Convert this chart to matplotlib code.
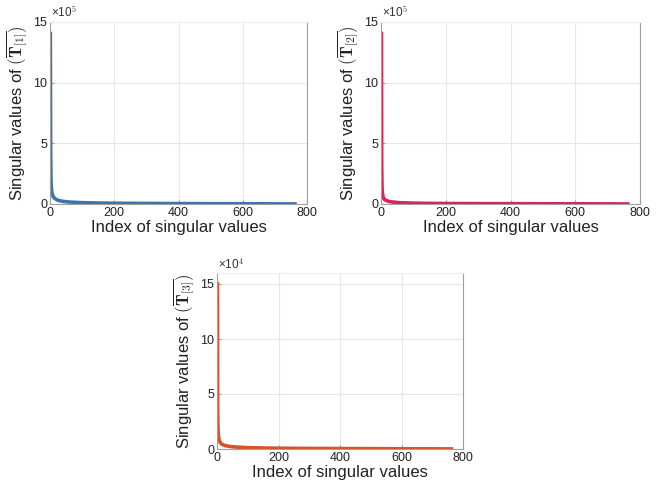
import matplotlib
matplotlib.use("Agg")
import matplotlib.pyplot as plt
from matplotlib.ticker import FuncFormatter

plt.rcParams['font.family'] = ['Liberation Sans', 'DejaVu Sans']
plt.rcParams['mathtext.fontset'] = 'cm'

# Singular value anchors
idx = [1, 2, 3, 4, 6, 10, 15, 25, 40, 60, 100, 150, 200, 300, 400, 500, 600, 700, 768]
sv1 = [14.2e5, 4.5e5, 2.0e5, 1.4e5, 0.9e5, 0.6e5, 0.45e5, 0.30e5, 0.22e5, 0.16e5,
       0.11e5, 0.08e5, 0.06e5, 0.045e5, 0.035e5, 0.025e5, 0.018e5, 0.012e5, 0.005e5]
sv2 = [14.2e5, 3.5e5, 1.5e5, 1.0e5, 0.6e5, 0.4e5, 0.30e5, 0.20e5, 0.15e5, 0.10e5,
       0.07e5, 0.05e5, 0.04e5, 0.03e5, 0.025e5, 0.02e5, 0.015e5, 0.01e5, 0.005e5]
sv3 = [15.2e4, 4.0e4, 2.0e4, 1.4e4, 0.9e4, 0.6e4, 0.45e4, 0.32e4, 0.24e4, 0.18e4,
       0.12e4, 0.09e4, 0.07e4, 0.05e4, 0.04e4, 0.03e4, 0.02e4, 0.015e4, 0.005e4]

xticks = [0, 200, 400, 600, 800]
yticks1 = [0, 5e5, 10e5, 15e5]
yticks3 = [0, 5e4, 10e4, 15e4]
exps = [5, 5, 4]

colors = ['#3a74ae', '#d8245a', '#d5522a']
ylabels = [r'Singular values of $(\overline{\mathbf{T}_{[1]}})$',
           r'Singular values of $(\overline{\mathbf{T}_{[2]}})$',
           r'Singular values of $(\overline{\mathbf{T}_{[3]}})$']

fig = plt.figure(figsize=(6.6, 4.8), dpi=100)
pos = [
    [50/660, 1-204/480, 257/660, 182/480],
    [381/660, 1-204/480, 259/660, 182/480],
    [217/660, 1-449/480, 246/660, 176/480],
]
series = [sv1, sv2, sv3]
ylims = [(0, 15e5), (0, 15e5), (0, 16e4)]
yticks = [yticks1, yticks1, yticks3]

for i in range(3):
    ax = fig.add_axes(pos[i])
    ax.plot(idx, series[i], color=colors[i], lw=2.6, solid_joinstyle='round',
            solid_capstyle='butt')
    ax.set_xlim(0, 800)
    ax.set_ylim(*ylims[i])
    ax.set_xticks(xticks)
    ax.set_yticks(yticks[i])
    scale = 10 ** exps[i]
    ax.yaxis.set_major_formatter(FuncFormatter(lambda v, p, s=scale: f'{v/s:g}'))
    ax.text(0.005, 1.008, '×10$^{%d}$' % exps[i], transform=ax.transAxes,
            fontsize=8.5, color='#333333', ha='left', va='bottom')
    ax.grid(True, color='#e6e6e6', lw=0.8)
    ax.set_axisbelow(True)
    for s in ['left', 'bottom', 'right']:
        ax.spines[s].set_color('#a0a0a0')
        ax.spines[s].set_linewidth(0.8)
    ax.spines['top'].set_color('#eeeeee')
    ax.tick_params(direction='in', length=3, color='#a0a0a0', labelsize=9,
                   labelcolor='#222222', pad=2)
    ax.set_xlabel('Index of singular values', fontsize=12, labelpad=1, color='#222222')
    ax.set_ylabel(ylabels[i], fontsize=12, labelpad=3, color='#222222')

fig.savefig('out.png', dpi=100)
